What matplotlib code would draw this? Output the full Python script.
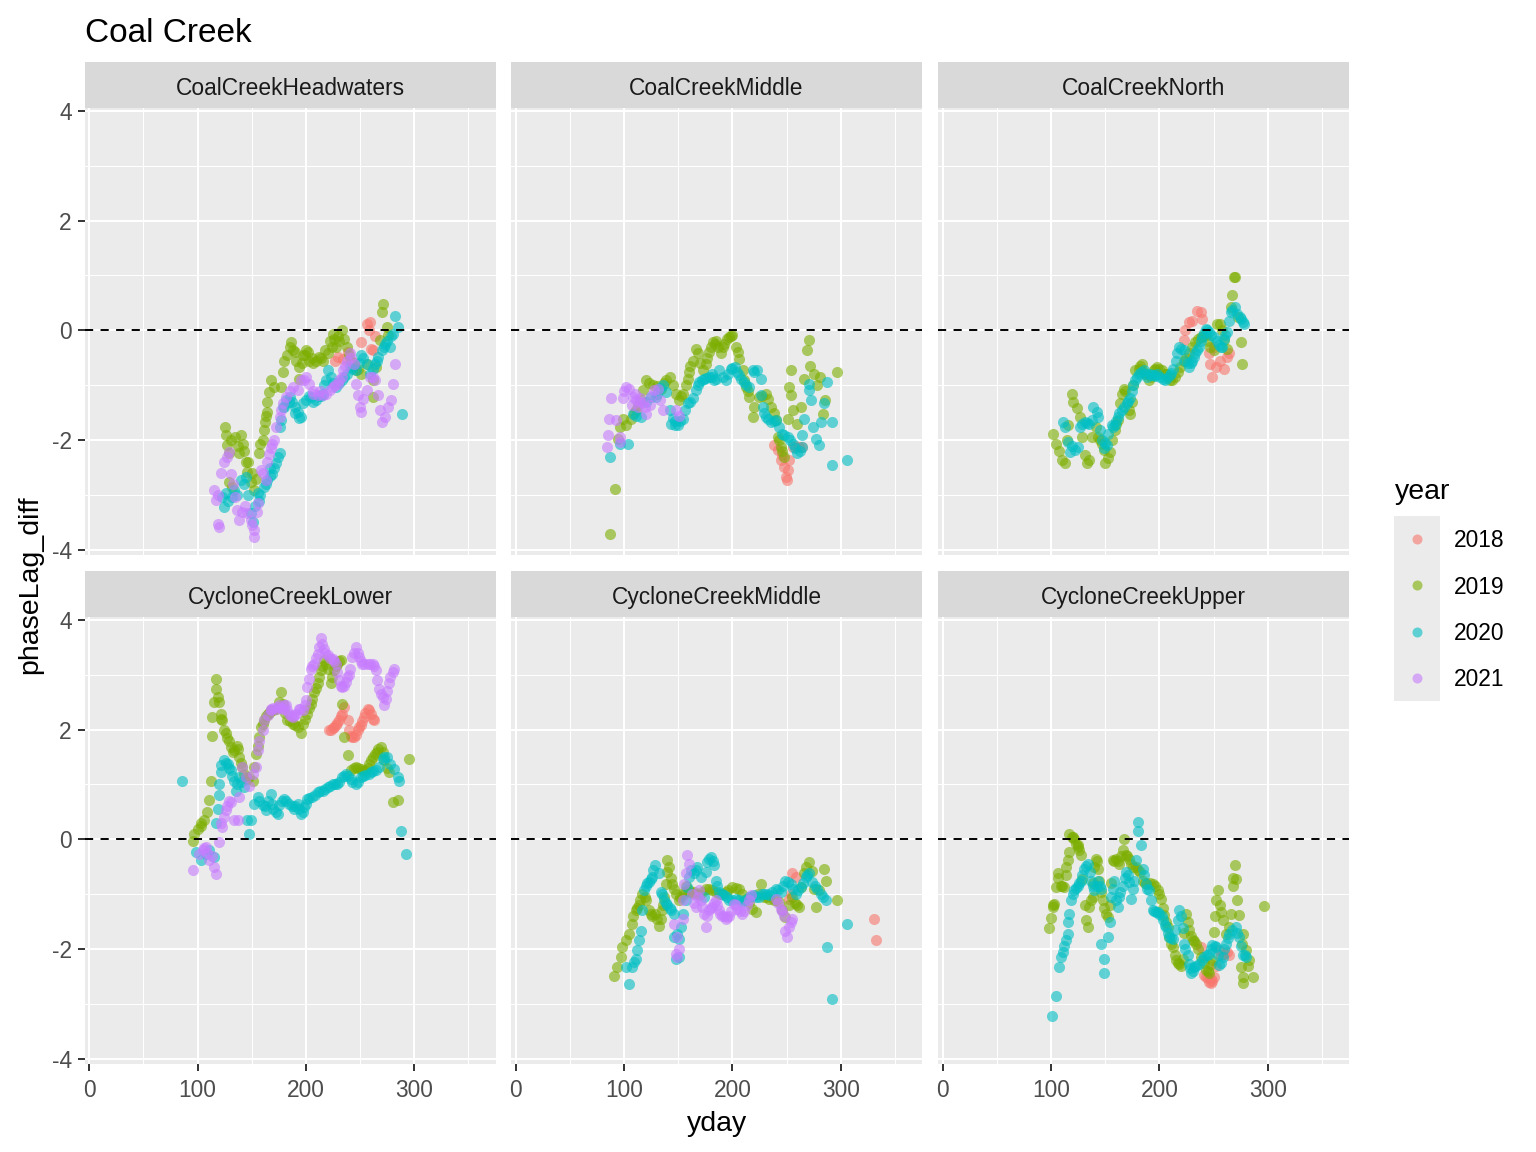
import matplotlib
matplotlib.use('Agg')
import matplotlib.pyplot as plt

plt.rcParams['font.family'] = ['Liberation Sans', 'DejaVu Sans']
plt.rcParams['axes.unicode_minus'] = False

# data (yday, phaseLag_diff)
hw_2018 = [(227, -0.55), (230, -0.48), (234, -0.52), (239, -0.39), (244, -0.6), (251, -0.21),
           (256, 0.12), (258, 0.0), (259, 0.15), (260, -0.33), (262, -0.36), (264, -0.1)]
hw_2019 = [(125, -1.76), (126, -1.91), (127.5, -2.09), (129, -2.24), (129, -2.76), (132, -2.85),
           (140, -1.91), (141.7, -2.06), (138.6, -2.24), (144.8, -2.39), (146, -2.58), (149, -2.76),
           (152.5, -2.91), (157, -2.24), (158, -2.06), (161, -1.82), (162, -1.67), (164, -1.48),
           (164, -1.3), (166, -1.12), (168, -0.91), (171, -1.03), (177, -1.03), (178.8, -0.76),
           (180, -0.55), (186.5, -0.21), (188, -0.36), (191, -0.55), (194, -0.67), (194, -0.88),
           (200, -0.36), (203, -0.55), (209.7, -0.55), (215.9, -0.55), (220.5, -0.42), (225, -0.06),
           (228, -0.3), (233, 0.0), (237.5, -0.3), (242, -0.55), (246.7, -0.73), (251, -0.79),
           (256, -0.61), (262, -0.91), (262, -1.21), (265, -0.67), (268, -0.18), (270, 0.33),
           (271.6, 0.48), (274.7, 0.06), (276, -0.09), (197, -0.45), (206, -0.5), (212, -0.48),
           (222, -0.2), (230, -0.1), (235, -0.15),
           (183, -0.45), (185, -0.3), (190, -0.4), (196, -0.6), (199, -0.45), (202, -0.4), (207, -0.6),
           (214, -0.5), (218, -0.35), (224, -0.3), (226, -0.15), (231, -0.2), (240, -0.45), (244, -0.65),
           (248, -0.7), (131, -2.0), (135, -1.95), (137, -2.1), (143, -2.2), (147, -2.4), (150, -2.6),
           (154, -2.7), (160, -2.0), (163, -1.55)]
hw_2020 = [(123, -3.03), (126, -2.97), (124.7, -3.21), (132, -3.03), (140, -2.73), (145, -2.67),
           (149, -3.33), (151, -3.48), (155.6, -2.97), (161, -2.85), (164.5, -2.73), (169, -2.61),
           (172.6, -2.42), (175.7, -2.24), (175.7, -1.76), (177, -1.64), (178.8, -1.39), (182, -1.27),
           (185, -1.21), (189.6, -1.39), (192.7, -1.48), (195.8, -1.58), (197, -1.33), (200, -1.27),
           (205, -1.21), (209.7, -1.27), (215.9, -1.15), (219, -0.91), (220.5, -0.73), (223.6, -0.85),
           (228, -1.03), (233, -0.91), (237.5, -0.79), (240.6, -0.67), (246.7, -0.73), (251, -0.45),
           (256, -0.61), (259, -0.79), (264, -0.61), (267, -0.48), (270, -0.36), (273, -0.24),
           (277.7, -0.3), (280.8, -0.06), (282.3, 0.27), (285.4, 0.06), (288.5, -1.52),
           (136, -3.0), (157, -3.1), (167, -2.5), (187, -1.3), (212, -1.2),
           (180, -1.4), (184, -1.3), (190, -1.5), (194, -1.6), (203, -1.2), (207, -1.3), (214, -1.2),
           (217, -1.0), (225, -0.95), (231, -0.95), (235, -0.85), (243, -0.7), (249, -0.6), (253, -0.5),
           (262, -0.7), (266, -0.55), (272, -0.3), (275, -0.2), (279, -0.1), (128, -3.1), (134, -2.9),
           (143, -2.8), (147, -3.0), (153, -3.2), (158, -3.0), (163, -2.8), (167, -2.65), (171, -2.5),
           (174, -2.3)]
hw_2021 = [(118.5, -3.52), (120, -3.58), (115.5, -2.91), (117, -3.09), (124.7, -2.39), (129, -2.21),
           (131, -2.61), (134.5, -3.03), (136, -3.27), (138.6, -3.45), (146, -3.33), (149, -3.45),
           (152.5, -3.64), (152.5, -3.76), (155.6, -3.15), (158.5, -2.55), (163, -2.73), (164.5, -2.39),
           (169, -2.06), (170.6, -2.0), (172, -1.76), (175.7, -1.58), (177, -1.45), (178.8, -1.33),
           (182, -1.21), (188, -1.03), (192.7, -1.09), (195.8, -0.91), (200, -0.85), (203, -0.97),
           (206.6, -1.15), (211, -1.18), (216, -1.18), (222, -1.09), (225, -1.03), (229.8, -0.97),
           (233, -0.85), (234.4, -0.73), (237.5, -0.55), (240.6, -0.42), (244, -0.61), (246.7, -0.97),
           (248, -1.18), (250, -1.39), (251, -1.48), (256, -1.09), (259, -0.85), (264, -0.91),
           (267, -1.18), (268, -1.45), (270, -1.67), (273, -1.58), (276, -1.39), (279, -1.27),
           (280.8, -0.97), (282.3, -0.61), (185, -1.1), (198, -0.9),
           (207, -1.1), (213, -1.1), (219, -1.15), (227, -1.0), (231, -0.9), (236, -0.65), (242, -0.5),
           (253, -1.25), (262, -0.85), (119, -3.0), (122, -2.6), (127, -2.3), (133, -2.8), (141, -3.3),
           (144, -3.2), (150, -3.55), (155, -3.3), (160, -2.6), (166, -2.25), (168, -2.15)]

mid_2018 = [(238.6, -2.09), (241.7, -2.18), (244.8, -2.36), (246, -2.27), (248, -2.48), (249.4, -2.67),
            (250, -2.72), (251, -2.55), (252.6, -2.36), (255.5, -2.12), (258, -2.1), (261.6, -2.12),
            (264.7, -2.12)]
mid_2019 = [(86.8, -3.7), (91.4, -2.88), (94.5, -1.97), (96, -1.76), (99, -1.61), (102, -1.73),
            (106.7, -1.61), (111, -1.45), (116, -1.27), (117.5, -1.09), (120.5, -0.91), (126.7, -1.0),
            (134, -1.06), (139, -0.91), (142, -0.85), (145, -1.0), (148, -1.15), (151, -1.27),
            (154.5, -1.15), (157, -1.0), (159, -0.88), (160, -0.76), (163.5, -0.55), (166, -0.33),
            (168, -0.42), (172.7, -0.73), (175.7, -0.61), (178.8, -0.39), (182, -0.21), (186.5, -0.3),
            (189.6, -0.42), (192.7, -0.24), (197, -0.12), (200, -0.09), (203.4, -0.3), (206.4, -0.52),
            (209.5, -0.73), (212.6, -1.03), (215.6, -1.21), (218.6, -1.58), (220, -1.39), (224.8, -1.21),
            (231, -1.15), (235.6, -1.39), (240, -1.64), (241.7, -1.94), (244.8, -2.12), (248, -2.3),
            (251, -1.61), (254, -0.73), (252.6, -1.03), (256, -1.45), (260, -1.7), (263, -1.39),
            (266, -0.88), (269, -0.36), (270.6, -0.18), (272, -0.64), (275, -0.79), (278, -1.0),
            (281, -0.85), (284, -1.52), (285.5, -1.27), (296.9, -0.76), (254, -1.18), (185, -0.2),
            (109, -1.5), (113, -1.35), (123, -0.95), (130, -1.02), (137, -0.95), (153, -1.2), (161, -0.65),
            (170, -0.6), (177, -0.5), (180, -0.3), (184, -0.25), (191, -0.3), (195, -0.15), (199, -0.1),
            (205, -0.4), (211, -0.9), (214, -1.1), (227, -1.2), (233, -1.25), (238, -1.5), (243, -2.0),
            (246, -2.2)]
mid_2020 = [(86.8, -2.3), (96, -2.06), (103.7, -2.06), (108.3, -1.52), (111, -1.55), (116, -1.58),
            (125, -1.21), (129.7, -1.21), (136, -1.0), (139, -1.12), (142, -1.45), (143.7, -1.7),
            (149.7, -1.73), (154.3, -1.61), (156, -1.45), (159, -1.33), (163.5, -1.24), (166.5, -1.09),
            (169.6, -0.94), (174, -0.88), (178.8, -0.85), (185, -0.88), (188, -0.73), (194, -0.91),
            (198.8, -0.7), (202, -0.67), (206.4, -0.82), (211, -0.94), (215.6, -1.03), (218.6, -0.73),
            (223, -0.73), (226, -0.88), (226, -1.18), (227.9, -1.39), (231, -1.58), (235.6, -1.67),
            (240, -1.64), (246, -1.88), (251, -1.94), (255.5, -2.06), (260, -2.24), (264.7, -2.12),
            (264.7, -1.91), (266, -1.61), (271, -1.09), (271, -0.97), (272.6, -1.27), (274, -1.76),
            (277, -1.97), (280, -2.09), (281.5, -1.67), (284.6, -1.33), (287.7, -0.94), (292.3, -1.67),
            (292.3, -2.45), (306, -2.36), (120, -1.3), (147, -1.65), (181, -0.8), (191, -0.85),
            (130, -1.15), (133, -1.05), (145, -1.6), (147, -1.72), (152, -1.65), (161, -1.3), (168, -1.0),
            (172, -0.9), (176, -0.86), (181, -0.85), (183, -0.9), (196, -0.8), (200, -0.68), (204, -0.75),
            (208, -0.88), (213, -1.0), (220, -0.75), (229, -1.5), (233, -1.62), (238, -1.65), (243, -1.75),
            (248, -1.9), (253, -2.0), (258, -2.15), (262, -2.2)]
mid_2021 = [(84, -2.12), (85, -1.91), (86.2, -1.61), (88.4, -1.24), (93, -1.64), (96, -1.94),
            (96, -2.03), (99, -1.24), (102, -1.03), (105, -1.06), (108, -1.21), (111, -1.27),
            (114.4, -1.24), (117.5, -1.33), (120.5, -1.52), (123.6, -1.36), (128, -1.09), (131, -1.06),
            (133, -1.27), (136, -1.45), (148, -1.45), (151, -1.55), (107, -1.35), (113, -1.4),
            (100, -1.1), (110, -1.15), (115, -1.3), (119, -1.4), (125, -1.2)]

north_2018 = [(222.5, -0.18), (224, 0.0), (227, 0.15), (230, 0.18), (234.9, 0.36), (238, 0.33),
              (239.5, 0.21), (245.7, -0.42), (247, -0.61), (248.7, -0.85), (251.8, -0.67), (256, -0.55),
              (260, -0.7), (262.6, -0.48), (264, -0.42), (250, -0.3)]
north_2019 = [(102, -1.88), (105, -2.06), (110, -2.36), (113, -2.42), (116, -1.73), (119, -1.15),
              (120.7, -1.3), (123.8, -1.42), (126.8, -1.58), (128.4, -1.94), (131.5, -2.27), (133, -2.42),
              (134.6, -2.36), (137.6, -1.94), (141.7, -1.76), (143.8, -1.94), (147, -2.06), (148.5, -2.18),
              (150, -2.42), (153, -2.33), (154.6, -2.21), (159, -1.82), (162, -1.64), (164, -1.33),
              (165.3, -1.15), (167, -1.06), (171.6, -1.45), (173, -1.52), (174.6, -1.3), (177.8, -0.73),
              (180.9, -0.7), (184, -0.61), (190, -0.91), (194.7, -0.73), (198, -0.67), (202, -0.73),
              (208.6, -0.85), (211.7, -0.91), (214.8, -0.85), (219.4, -0.67), (222.5, -0.55), (227, -0.42),
              (233, -0.21), (238, -0.12), (242.6, -0.09), (247, -0.3), (250, -0.36), (253, 0.12),
              (256, 0.12), (260, -0.18), (262, -0.33), (265.7, 0.42), (267, 0.64), (268.6, 0.97),
              (270, 0.97), (273, 0.24), (275, -0.21), (276.7, -0.61), (187, -0.8), (205, -0.8),
              (107, -2.2), (115, -2.0), (145, -2.0), (156, -2.0), (160, -1.7), (168, -1.1), (176, -1.0),
              (182, -0.65), (186, -0.75), (192, -0.85), (196, -0.7), (200, -0.7), (206, -0.8), (210, -0.9),
              (217, -0.75), (225, -0.5), (230, -0.3), (236, -0.15), (240, -0.1), (245, -0.2), (258, 0.0)]
north_2020 = [(111.4, -1.67), (113, -1.76), (116, -2.03), (117.6, -2.21), (122, -2.18), (125.3, -2.12),
              (127, -1.76), (131.5, -1.67), (134.6, -1.7), (137.6, -1.64), (139, -1.39), (142.3, -1.48),
              (143.8, -1.58), (145.4, -1.82), (147, -2.0), (148.5, -2.15), (151.5, -2.09), (153, -1.88),
              (156, -1.73), (159, -1.73), (162, -1.58), (165.3, -1.45), (169.8, -1.33), (173, -1.24),
              (176, -1.0), (177.8, -0.91), (180.9, -0.79), (185.5, -0.73), (188.6, -0.85), (194.7, -0.82),
              (201, -0.85), (205.5, -0.91), (210, -0.82), (213, -0.7), (216.4, -0.42), (217.9, -0.3),
              (222.5, -0.36), (224, -0.55), (227, -0.67), (230, -0.55), (233, -0.42), (236.4, -0.3),
              (239.5, -0.12), (242.6, 0.03), (245.7, -0.03), (250, -0.12), (255, -0.27), (258, -0.3),
              (259.5, -0.15), (262.6, -0.03), (264, 0.18), (265.7, 0.33), (270, 0.42), (272, 0.3),
              (275, 0.21), (278, 0.12), (191, -0.8), (198, -0.8),
              (119, -2.1), (129, -1.7), (133, -1.68), (150, -2.05), (157, -1.75), (160, -1.65), (163, -1.5),
              (167, -1.4), (171, -1.28), (175, -1.1), (179, -0.85), (183, -0.75), (187, -0.8), (192, -0.82),
              (196, -0.83), (203, -0.88), (207, -0.87), (211, -0.78), (215, -0.55), (220, -0.33), (226, -0.6),
              (229, -0.6), (232, -0.48), (235, -0.35), (238, -0.2), (241, -0.05), (244, 0.0), (248, -0.08),
              (253, -0.2), (257, -0.3), (261, -0.08), (267, 0.38), (274, 0.25), (277, 0.15)]

low_2018 = [(221.5, 1.99), (224.6, 2.02), (227.7, 2.08), (230.8, 2.17), (233.8, 2.29), (235.4, 2.41),
            (238.5, 2.17), (241.5, 1.89), (244.6, 1.86), (247.7, 1.99), (250.8, 2.08), (253.8, 2.23),
            (257, 2.38), (260, 2.29), (263, 2.17),
            (223, 2.0), (226, 2.05), (229, 2.12), (232, 2.25), (240, 2.0), (243, 1.87), (246, 1.9),
            (249, 2.05), (252, 2.15), (255, 2.3), (258, 2.35), (262, 2.2)]
low_2019 = [(95.4, -0.02), (97, 0.1), (100, 0.19), (103, 0.29), (106, 0.35), (109, 0.5), (110.8, 0.71),
            (112.3, 1.07), (113.8, 1.89), (113.8, 2.23), (117, 2.74), (117, 2.93), (120, 2.5),
            (121.5, 2.29), (123, 2.17), (124.6, 1.99), (126, 1.93), (129, 1.8), (131, 1.68), (134, 1.62),
            (137, 1.65), (138.5, 1.5), (141.5, 1.32), (144.6, 1.14), (147.7, 1.14), (150.8, 1.07),
            (152.3, 1.32), (154, 1.56), (157, 1.86), (158.5, 2.05), (161.5, 2.17), (164.6, 2.29),
            (167.7, 2.35), (172.3, 2.38), (177, 2.68), (178.5, 2.47), (183, 2.17), (187.7, 2.11),
            (192.3, 2.05), (195.4, 1.93), (197, 2.11), (201.5, 2.29), (204.6, 2.47), (207.7, 2.68),
            (210.8, 2.84), (213.8, 3.08), (216.9, 3.26), (220, 3.11), (223, 2.84), (226, 3.08),
            (229, 3.2), (232, 3.26), (233.8, 2.47), (235, 1.86), (238.5, 1.53), (241.5, 1.26),
            (246, 1.32), (250.8, 1.29), (255, 1.26), (258.5, 1.38), (261.5, 1.5), (266, 1.59),
            (269, 1.68), (272, 1.44), (277, 1.23), (280, 0.68), (284.6, 0.71), (295.4, 1.47),
            (115, 2.5), (119, 2.6), (122, 2.2), (127, 1.85), (133, 1.6), (136, 1.7), (140, 1.4), (143, 1.2),
            (146, 1.1), (156, 1.7), (160, 2.1), (163, 2.25), (166, 2.3), (170, 2.35), (175, 2.5), (181, 2.3),
            (185, 2.15), (190, 2.08), (199, 2.2), (203, 2.4), (206, 2.55), (209, 2.75), (212, 2.95),
            (215, 3.15), (219, 3.2), (224, 2.95), (228, 3.15), (231, 3.25), (244, 1.3), (248, 1.3),
            (253, 1.25), (257, 1.3), (260, 1.45), (264, 1.55), (267, 1.65), (271, 1.6), (275, 1.3),
            (103, 0.25)]
low_2020 = [(86, 1.06), (98.5, -0.23), (103, -0.38), (107.7, -0.26), (111, -0.2), (115.4, -0.32),
            (117, 0.29), (118.5, 0.56), (119.4, 0.8), (120, 1.01), (121.5, 1.23), (124.6, 1.44),
            (127.7, 1.38), (130.8, 1.26), (133.8, 1.07), (135.4, 0.89), (138.5, 1.14), (143, 0.95),
            (146, 0.35), (147.7, 0.1), (149, 0.35), (152.3, 0.65), (155.4, 0.77), (160, 0.62),
            (163, 0.53), (167.7, 0.83), (169, 0.65), (174, 0.47), (175.4, 0.62), (180, 0.74),
            (184.6, 0.65), (189, 0.56), (192.3, 0.65), (195.4, 0.47), (198.5, 0.59), (201.5, 0.74),
            (206, 0.77), (210.8, 0.86), (215.4, 0.89), (220, 0.95), (224.6, 1.01), (229, 1.01),
            (233.8, 1.14), (236.9, 1.2), (241.5, 1.1), (246, 1.01), (250.8, 1.14), (255, 1.17),
            (260, 1.23), (264.6, 1.26), (267.7, 1.32), (270.8, 1.47), (275, 1.5), (278, 1.38),
            (281.5, 1.29), (284.6, 1.14), (286, 1.07), (287.7, 0.16), (292, -0.26),
            (170, 0.55), (172, 0.5), (178, 0.7), (182, 0.7), (187, 0.6), (190, 0.6), (194, 0.55), (197, 0.5),
            (200, 0.65), (203, 0.75), (208, 0.8), (213, 0.88), (218, 0.92), (222, 0.98), (227, 1.0),
            (231, 1.05), (235, 1.15), (239, 1.15), (243, 1.05), (248, 1.05), (253, 1.15), (258, 1.2),
            (262, 1.25), (272, 1.5), (157, 0.7), (162, 0.6), (165, 0.7), (122, 1.35), (126, 1.4),
            (129, 1.3), (132, 1.15), (140, 1.05), (136, 1.0)]
low_2021 = [(95.4, -0.56), (101.5, -0.26), (104.6, -0.2), (107.7, -0.14), (111, -0.38), (115.4, -0.5),
            (117, -0.63), (120, -0.05), (123, 0.22), (124.6, 0.41), (126, 0.53), (131, 0.68),
            (134, 0.35), (137, 0.35), (138.5, 0.77), (141.5, 1.32), (144.6, 1.14), (147.7, 0.98),
            (150.8, 1.2), (154, 1.32), (155.4, 1.62), (157, 1.8), (160, 1.99), (161.5, 2.17),
            (164.6, 2.26), (167.7, 2.35), (172.3, 2.38), (175.4, 2.44), (178.5, 2.38), (181.5, 2.44),
            (184.6, 2.29), (187.7, 2.23), (191, 2.29), (193.8, 2.38), (197, 2.35), (200, 2.53),
            (201.5, 2.77), (203, 2.93), (204.6, 3.11), (207.7, 3.2), (210.8, 3.38), (213.8, 3.66),
            (216.9, 3.47), (220, 3.35), (224.6, 3.29), (227.7, 3.2), (230.8, 2.9), (233.8, 2.77),
            (237, 2.87), (240, 2.99), (243, 3.32), (246, 3.5), (249, 3.32), (252, 3.2), (256.9, 3.2),
            (261.5, 3.2), (264.6, 3.08), (266, 2.9), (267.7, 2.74), (270.8, 2.59), (272, 2.44),
            (275, 2.71), (278, 2.96), (281.5, 3.11),
            (168, 2.37), (170, 2.4), (174, 2.42), (177, 2.4), (180, 2.45), (183, 2.35), (186, 2.25),
            (189, 2.27), (195, 2.38), (199, 2.45), (206, 3.15), (209, 3.3), (212, 3.5), (215, 3.55),
            (218, 3.4), (222, 3.3), (226, 3.25), (229, 3.05), (232, 2.8), (235, 2.8), (238, 2.95),
            (241, 3.1), (244, 3.4), (248, 3.4), (251, 3.25), (254, 3.2), (259, 3.2), (263, 3.15),
            (269, 2.65), (274, 2.55), (277, 2.85), (280, 3.05), (127, 0.6), (129, 0.7), (122, 0.3),
            (113, -0.3), (109, -0.25), (106, -0.15)]

cmid_2018 = [(253.8, -0.99), (252.3, -1.08), (255.4, -0.62), (258.5, -0.69), (330.8, -1.45), (332.3, -1.84)]
cmid_2019 = [(90.8, -2.48), (93.8, -2.33), (97, -2.15), (98.5, -1.96), (101.5, -1.84), (104.6, -1.72),
             (107.7, -1.54), (110.8, -1.29), (113.8, -1.2), (117, -0.99), (120, -1.11), (123, -1.29),
             (126, -1.39), (129, -1.36), (132, -1.57), (133.8, -1.45), (135.4, -1.29), (137, -1.05),
             (138.5, -0.81), (140, -0.6), (140, -0.38), (141.5, -0.5), (144.6, -0.81), (147.7, -0.99),
             (150.8, -1.11), (154, -1.02), (157, -0.84), (160, -0.93), (164.6, -0.96), (169, -1.02),
             (175.4, -0.9), (181.5, -0.93), (187.7, -0.99), (193.8, -0.96), (200, -0.87), (206, -0.9),
             (212.3, -1.08), (218.5, -1.26), (221.5, -1.33), (226, -0.81), (229, -1.05), (234, -1.08),
             (238.5, -1.11), (243, -1.14), (246, -1.29), (249, -1.42), (255.4, -1.05), (260, -1.2),
             (261.5, -1.23), (263, -0.87), (266, -0.62), (270.8, -0.41), (273.8, -0.57), (277, -1.23),
             (280, -0.93), (284.6, -0.54), (286, -0.75), (297, -1.11),
             (160, -0.95), (163, -0.98), (167, -1.0), (172, -0.95), (178, -0.9), (185, -0.95), (190, -1.0),
             (196, -0.92), (203, -0.88), (209, -1.0), (215, -1.15), (224, -1.0), (232, -1.05), (240, -1.1),
             (252, -1.2), (258, -1.15), (268, -0.5), (275, -0.9), (108, -1.4), (112, -1.25), (115, -1.1),
             (119, -1.05), (125, -1.35), (130, -1.45), (136, -1.2), (143, -0.7), (146, -0.9), (152, -1.05),
             (155, -0.95)]
cmid_2020 = [(104.6, -2.63), (101.5, -2.33), (107.7, -2.33), (109, -2.24), (110.8, -2.18), (112.3, -2.02),
             (113.8, -1.84), (115.4, -1.66), (117, -1.29), (118.5, -0.93), (120, -0.84), (123, -0.78),
             (126, -0.69), (129, -0.47), (132, -0.62), (134, -0.96), (137, -1.11), (140, -1.2),
             (143, -1.29), (146, -1.36), (146, -1.78), (149, -1.72), (150.8, -1.81), (150.8, -2.15),
             (147.7, -2.18), (152.3, -1.6), (154, -1.36), (157, -1.11), (158.5, -0.87), (160, -0.69),
             (164.6, -0.62), (167.7, -0.5), (170.8, -0.69), (173.8, -1.05), (177, -0.41), (180, -0.32),
             (183, -0.47), (184.6, -0.75), (187.7, -0.96), (192.3, -1.02), (197, -1.11), (203, -1.08),
             (209, -1.14), (215.4, -1.05), (220, -1.02), (224.6, -1.05), (229, -0.99), (234, -1.02),
             (240, -0.9), (244.6, -0.96), (249, -0.75), (253.8, -0.81), (258.5, -0.99), (263, -0.87),
             (267.7, -0.69), (270.8, -0.62), (273.8, -0.78), (278, -0.9), (281.5, -0.99), (286, -1.11),
             (287.7, -1.96), (306, -1.54), (292.3, -2.91),
             (162, -0.55), (166, -0.55), (176, -0.6), (178, -0.35), (182, -0.4), (186, -0.85), (190, -1.0),
             (195, -1.05), (200, -1.1), (206, -1.1), (212, -1.1), (218, -1.03), (222, -1.05), (227, -1.0),
             (232, -1.0), (237, -0.95), (242, -0.92), (247, -0.85), (251, -0.78), (256, -0.9), (261, -0.92),
             (265, -0.8), (269, -0.65), (276, -0.85), (284, -1.05), (121, -0.8), (125, -0.72), (127, -0.55),
             (135, -1.0), (139, -1.15), (142, -1.25)]
cmid_2021 = [(146, -1.54), (149, -1.78), (147.7, -2.08), (149, -2.15), (150.8, -1.99), (154, -1.45),
             (154, -1.11), (155.4, -0.81), (157, -0.62), (158.5, -0.29), (160, -0.44), (163, -0.99),
             (166, -1.23), (169, -0.93), (172.3, -1.23), (175.4, -1.6), (178.5, -1.29), (181.5, -1.23),
             (184.6, -1.11), (187.7, -1.29), (190.8, -1.39), (193.8, -1.45), (197, -1.39), (201.5, -1.17),
             (204.6, -1.26), (209, -1.36), (213.8, -1.2), (216.9, -1.02), (240, -1.08), (244.6, -1.26),
             (247.7, -1.39), (249, -1.66), (250.8, -1.78), (255.4, -1.45),
             (165, -1.15), (168, -1.05), (171, -1.1), (174, -1.35), (177, -1.4), (180, -1.25), (183, -1.15),
             (186, -1.2), (189, -1.35), (192, -1.4), (195, -1.42), (199, -1.3), (203, -1.2), (207, -1.3),
             (211, -1.3), (215, -1.1), (242, -1.15), (246, -1.3), (252, -1.6), (254, -1.5)]

up_2018 = [(238.5, -1.96), (241.5, -2.47), (244.6, -2.53), (247.7, -2.62), (249, -2.58), (250.8, -2.5),
           (255.4, -2.02), (260, -2.08), (264.6, -2.11),
           (243, -2.5), (246, -2.6), (248, -2.55), (252, -2.3), (257, -2.1), (262, -2.05)]
up_2019 = [(98.5, -1.62), (100, -1.44), (101.5, -1.23), (103, -1.17), (104.6, -0.87), (106, -0.62),
           (109, -0.84), (112.3, -0.87), (113.8, -0.65), (115.4, -0.38), (117, -0.23), (117, 0.1),
           (120, 0.04), (123, -0.08), (124.6, -0.14), (127.7, -0.29), (129, -0.72), (132.3, -1.47),
           (134, -1.59), (135.4, -1.23), (138.5, -1.05), (140, -0.5), (141.5, -0.35), (143, -0.53),
           (144.6, -0.75), (147.7, -1.11), (150.8, -1.35), (152.3, -1.41), (154, -1.2), (157, -0.38),
           (160, -0.35), (163, -0.44), (166, -0.2), (167.7, 0.01), (169, -0.29), (172.3, -0.35),
           (175.4, -0.5), (180, -0.56), (184.6, -0.75), (189, -0.81), (193.8, -0.81), (198.5, -0.93),
           (201.5, -1.08), (204.6, -1.38), (207.7, -1.59), (209, -1.78), (212.3, -1.96), (215.4, -2.2),
           (218.5, -2.26), (221.5, -2.17), (224.6, -1.35), (227.7, -1.65), (230.8, -1.84), (234, -1.9),
           (238.5, -2.14), (243, -2.38), (246, -2.44), (247.7, -2.26), (250.8, -1.68), (252.3, -1.11),
           (254, -0.93), (257, -1.32), (258.5, -1.47), (261.5, -1.72), (266, -1.35), (267.7, -0.84),
           (270.8, -0.72), (270, -0.47), (273.8, -1.38), (277, -1.72), (280, -2.02), (283, -2.2),
           (275.4, -2.32), (277, -2.5), (277, -2.62), (286.2, -2.5), (297, -1.22),
           (102, -1.2), (106, -0.7), (110, -0.85), (114, -0.5), (119, 0.05), (121, 0.0), (125, -0.1),
           (126, -0.2), (131, -1.2), (137, -1.1), (139, -0.8), (142, -0.4), (146, -0.95), (149, -1.25),
           (155, -0.8), (158, -0.4), (162, -0.4), (165, -0.3), (170, -0.3), (174, -0.45), (178, -0.5),
           (182, -0.6), (187, -0.8), (191, -0.8), (196, -0.85), (200, -1.0), (203, -1.25), (206, -1.5),
           (211, -1.9), (214, -2.1), (217, -2.25), (220, -2.3), (223, -1.7), (226, -1.5), (229, -1.75),
           (232, -1.85), (236, -2.0), (241, -2.25), (245, -2.4), (249, -2.2), (251, -1.4), (256, -1.2),
           (264, -1.6), (268, -0.7), (272, -1.1), (276, -1.9), (282, -2.3)]
up_2020 = [(101, -3.22), (104.6, -2.85), (107, -2.32), (109, -2.14), (110.8, -2.05), (113.8, -1.84),
           (115.4, -1.72), (117, -1.35), (118.5, -1.11), (121.5, -0.93), (124.6, -0.84), (127.7, -0.75),
           (130.8, -0.53), (134, -0.44), (137, -0.75), (140, -0.93), (143, -0.75), (146, -0.9),
           (146, -1.9), (149, -2.17), (149, -2.44), (152.3, -1.78), (154, -1.5), (155.4, -1.05),
           (158.5, -0.75), (161.5, -1.23), (163, -1.05), (166, -0.84), (169, -0.59), (172.3, -0.78),
           (173.8, -1.08), (177, -0.75), (178.5, -0.38), (180, 0.16), (180, 0.32), (183, -0.11),
           (184.6, -0.53), (187.7, -0.81), (190.8, -0.93), (193.8, -1.29), (197, -1.32), (200, -1.35),
           (203, -1.47), (206, -1.59), (209, -1.78), (212.3, -1.81), (216.9, -1.47), (218.5, -1.29),
           (221.5, -1.62), (223, -1.9), (226, -2.11), (227.7, -2.26), (229, -2.44), (232.3, -2.32),
           (237, -2.26), (241.5, -2.14), (246, -2.08), (249, -1.93), (252.3, -1.96), (255.4, -2.29),
           (258.5, -2.14), (261.5, -1.9), (264.6, -1.72), (270.8, -1.59), (273.8, -1.78), (277, -2.11),
           (280, -2.14),
           (112, -1.95), (116, -1.5), (120, -1.0), (123, -0.88), (126, -0.8), (129, -0.65), (132, -0.48),
           (136, -0.6), (139, -0.85), (142, -0.85), (145, -0.85), (157, -0.9), (160, -1.1), (164, -0.95),
           (168, -0.7), (171, -0.65), (176, -0.9), (186, -0.65), (189, -0.9), (192, -1.1), (195, -1.3),
           (199, -1.33), (202, -1.4), (205, -1.55), (208, -1.7), (211, -1.8), (214, -1.65), (220, -1.4),
           (224, -2.0), (228, -2.35), (231, -2.4), (234, -2.3), (239, -2.2), (244, -2.1), (248, -2.0),
           (251, -1.95), (254, -2.1), (257, -2.25), (260, -2.0), (263, -1.8), (267, -1.65), (272, -1.7),
           (275, -1.95), (279, -2.1)]

sites = ['CoalCreekHeadwaters', 'CoalCreekMiddle', 'CoalCreekNorth',
         'CycloneCreekLower', 'CycloneCreekMiddle', 'CycloneCreekUpper']
years = ['2018', '2019', '2020', '2021']
colors = ['#F8766D', '#7CAE00', '#00BFC4', '#C77CFF']

site_data = [
    [hw_2018, hw_2019, hw_2020, hw_2021],
    [mid_2018, mid_2019, mid_2020, mid_2021],
    [north_2018, north_2019, north_2020, []],
    [low_2018, low_2019, low_2020, low_2021],
    [cmid_2018, cmid_2019, cmid_2020, cmid_2021],
    [up_2018, up_2019, up_2020, []],
]

W, H = 1536, 1152
fig = plt.figure(figsize=(W / 100, H / 100), dpi=100)

col_left = [84.5, 511, 938]
col_w = 411
row_top = [108, 617]
panel_h = 447
strip_h = 46
pt_size = 64

for i, site in enumerate(sites):
    r, c = divmod(i, 3)
    left = col_left[c] / W
    bottom = 1 - (row_top[r] + panel_h) / H
    ax = fig.add_axes([left, bottom, col_w / W, panel_h / H])
    ax.set_facecolor('#EBEBEB')
    for s in ax.spines.values():
        s.set_visible(False)
    ax.set_xlim(-4.3, 375)
    ax.set_ylim(-4.09, 4.05)

    for v in [50, 150, 250, 350]:
        ax.axvline(v, color='white', lw=0.75, zorder=0.5)
    for v in [-3, -1, 1, 3]:
        ax.axhline(v, color='white', lw=0.75, zorder=0.5)
    for v in [0, 100, 200, 300]:
        ax.axvline(v, color='white', lw=1.5, zorder=0.6)
    for v in [-4, -2, 0, 2, 4]:
        ax.axhline(v, color='white', lw=1.5, zorder=0.6)

    for pts, col in zip(site_data[i], colors):
        if not pts:
            continue
        xs = [p[0] for p in pts]
        ys = [p[1] for p in pts]
        ax.scatter(xs, ys, s=pt_size, color=col, alpha=0.6, linewidths=0, zorder=2)

    ax.axhline(0, color='black', lw=1.4, linestyle=(0, (4.2, 3.8)), zorder=3)

    ax.set_xticks([0, 100, 200, 300])
    ax.set_yticks([-4, -2, 0, 2, 4])
    ax.tick_params(colors='#333333', labelcolor='#4D4D4D', labelsize=16.4,
                   length=5, width=1.4)
    ax.tick_params(axis='x', pad=6)
    ax.tick_params(axis='y', pad=4)
    if r == 0:
        ax.tick_params(axis='x', bottom=False, labelbottom=False)
    if c != 0:
        ax.tick_params(axis='y', left=False, labelleft=False)

    sax = fig.add_axes([left, 1 - row_top[r] / H, col_w / W, strip_h / H])
    sax.set_facecolor('#D9D9D9')
    sax.set_xticks([])
    sax.set_yticks([])
    for s in sax.spines.values():
        s.set_visible(False)
    sax.text(0.5, 0.42, site, ha='center', va='center', fontsize=16.4, color='#1A1A1A',
             transform=sax.transAxes)

fig.text(85 / W, 1 - 33 / H, 'Coal Creek', fontsize=24, ha='left', va='center', color='black')
fig.text(717 / W, 1 - 1124 / H, 'yday', fontsize=20.5, ha='center', va='center')
fig.text(30 / W, 1 - 585 / H, 'phaseLag_diff', fontsize=20.5, ha='center', va='center', rotation=90)

# legend
fig.text(1395 / W, 1 - 492 / H, 'year', fontsize=20.5, ha='left', va='center')
lax = fig.add_axes([1394 / W, 1 - 701 / H, 46 / W, 185 / H])
lax.set_facecolor('#EBEBEB')
lax.set_xlim(0, 1)
lax.set_ylim(0, 4)
lax.set_xticks([])
lax.set_yticks([])
for s in lax.spines.values():
    s.set_visible(False)
for k, (yr, col) in enumerate(zip(years, colors)):
    yk = 3.5 - k
    lax.scatter([0.5], [yk], s=52, color=col, alpha=0.6, linewidths=0)
    lax.text(1.3, yk - 0.04, yr, fontsize=16.4, ha='left', va='center', color='black',
             transform=lax.transData, clip_on=False)

fig.savefig('out.png', dpi=100)
